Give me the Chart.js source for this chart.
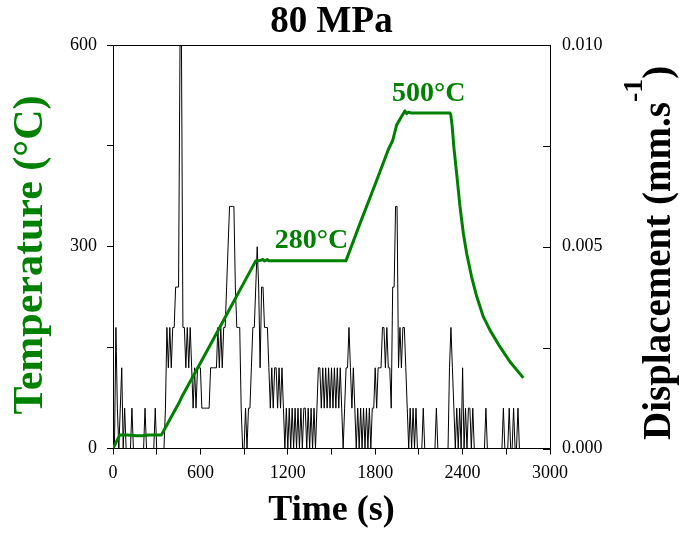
<!DOCTYPE html>
<html><head><meta charset="utf-8">
<script src="https://cdn.jsdelivr.net/npm/chart.js@4.4.1/dist/chart.umd.min.js"></script>
<style>html,body{margin:0;padding:0;background:#fff}canvas{display:block}</style>
</head><body>
<canvas id="c" width="679" height="533"></canvas>
<script>
// ---- data ----
const tempTime = [0,46,100,160,200,250,332,458,480,600,700,800,900,980,1000,1030,1040,1060,1070,1200,1400,1599,1700,1800,1889,1920,1947,1990,2004,2015,2030,2045,2100,2200,2313,2319,2329,2340,2359,2382,2405,2428,2462,2497,2542,2588,2657,2725,2817];
const tempValue = [0,20,20,19,19,20,20,70,80,127,167,207,247,279,279,281,279,281,279,279,279,279,337,393,444,458,481,497,502,498,500,499,499,499,499,496,478,448,409,360,320,290,255,226,196,176,151,129,105];

const dispTime = [
0,10,20,30,40,50,60,70,80,90,
100,110,120,130,140,150,160,170,180,190,
200,210,220,230,240,250,260,270,280,290,
300,310,320,330,340,350,360,370,380,390,
400,410,420,430,440,450,460,470,480,490,
500,510,520,530,540,550,560,570,580,590,
600,610,620,630,640,650,660,670,680,690,
700,710,720,730,740,750,760,770,780,790,
800,810,820,830,840,850,860,870,880,890,
900,910,920,930,940,950,960,970,980,990,
1000,1010,1020,1030,1040,1050,1060,1070,1080,1090,
1100,1110,1120,1130,1140,1150,1160,1170,1180,1190,
1200,1210,1220,1230,1240,1250,1260,1270,1280,1290,
1300,1310,1320,1330,1340,1350,1360,1370,1380,1390,
1400,1410,1420,1430,1440,1450,1460,1470,1480,1490,
1500,1510,1520,1530,1540,1550,1560,1570,1580,1590,
1600,1610,1620,1630,1640,1650,1660,1670,1680,1690,
1700,1710,1720,1730,1740,1750,1760,1770,1780,1790,
1800,1810,1820,1830,1840,1850,1860,1870,1880,1890,
1900,1910,1920,1930,1940,1950,1960,1970,1980,1990,
2000,2010,2020,2030,2040,2050,2060,2070,2080,2090,
2100,2110,2120,2130,2140,2150,2160,2170,2180,2190,
2200,2210,2220,2230,2240,2250,2260,2270,2280,2290,
2300,2310,2320,2330,2340,2350,2360,2370,2380,2390,
2400,2410,2420,2430,2440,2450,2460,2470,2480,2490,
2500,2510,2520,2530,2540,2550,2560,2570,2580,2590,
2600,2610,2620,2630,2640,2650,2660,2670,2680,2690,
2700,2710,2720,2730,2740,2750,2760,2770,2780,2790,
2800];
const dispRate = [
0,0,.003,.001,0,.001,.002,0,.001,0,
0,0,0,.001,0,0,0,0,0,0,
0,0,.001,0,0,0,0,0,0,.001,
0,0,0,0,0,0,.001,.003,.002,.003,
.002,.003,.003,.004,.004,.004,.010,.010,.003,.003,
.002,.003,.002,.003,.002,.001,.002,.001,.002,.002,
.002,.001,.001,.001,.001,.001,.001,.002,.002,.002,
.002,.002,.003,.002,.003,.002,.003,.003,.004,.005,
.006,.006,.006,.006,.004,.003,.003,.003,.001,0,
0,.001,0,.001,.001,.002,.003,.003,.004,.005,
.004,.002,.004,.004,.003,.003,.003,.002,.001,.002,
.001,.002,.002,.001,.002,.001,.002,.001,0,.001,
0,.001,0,.001,0,.001,0,.001,0,.001,
0,.001,.001,0,.001,0,.001,0,.001,0,
.001,.002,.002,.001,.002,.001,.002,.001,.002,.001,
.002,.001,.002,.001,.002,.001,.002,.001,0,.001,
.002,.002,.003,.002,.001,.002,.001,0,.001,0,
.001,0,.001,0,.001,0,.001,0,.001,.001,
.002,.001,.002,.002,.002,.003,.003,.002,.003,.002,
.002,.001,.004,.004,.006,.006,.002,.003,.002,.003,
.003,.002,.001,0,.001,0,.001,0,.001,0,
0,0,0,.001,0,0,0,0,0,0,
0,0,.001,0,0,0,0,0,0,0,
0,.002,.003,.002,.001,0,.001,0,.001,0,
.002,0,.001,0,.001,.001,0,.001,0,0,
0,0,0,0,0,0,.001,0,0,0,
0,0,0,0,0,0,0,0,.001,0,
0,0,.001,0,0,.001,0,0,.001,0,
0];

const xTickLabels = [0,600,1200,1800,2400,3000];
const tempTickLabels = [0,300,600];
const dispTickLabels = ['0.000','0.005','0.010'];
const annotations = [
  {text:'280°C', t:1111, T:298},
  {text:'500°C', t:1915, T:516}
];

// ---- styling ----
const GREEN = '#008000';
const SERIF = '"Liberation Serif", "Times New Roman", serif';
const tickFont = {family: SERIF, size: 18};

const extras = {
  id: 'extras',
  afterDraw(chart) {
    const {ctx, chartArea: a, scales} = chart;
    ctx.save();
    ctx.strokeStyle = '#000';
    ctx.lineWidth = 1;
    // top frame line
    ctx.beginPath();
    ctx.moveTo(a.left, Math.round(a.top) + 0.5);
    ctx.lineTo(a.right, Math.round(a.top) + 0.5);
    ctx.stroke();
    // inward ticks on right axis
    scales.y1.ticks.forEach(tk => {
      const py = Math.round(scales.y1.getPixelForValue(tk.value)) + 0.5;
      ctx.beginPath();
      ctx.moveTo(a.right - 7, py);
      ctx.lineTo(a.right, py);
      ctx.stroke();
    });
    // annotations
    ctx.fillStyle = GREEN;
    ctx.font = 'bold 28px ' + SERIF;
    ctx.textAlign = 'left';
    ctx.textBaseline = 'alphabetic';
    annotations.forEach(an => {
      ctx.fillText(an.text, scales.x.getPixelForValue(an.t), scales.y.getPixelForValue(an.T));
    });
    // left axis title
    ctx.save();
    ctx.translate(31, 255);
    ctx.rotate(-Math.PI / 2);
    ctx.font = 'bold 42px ' + SERIF;
    ctx.textAlign = 'center';
    ctx.textBaseline = 'middle';
    ctx.fillStyle = GREEN;
    ctx.fillText('Temperature (°C)', 0, 0);
    ctx.restore();
    // right axis title with superscript
    ctx.save();
    ctx.translate(670, 440);
    ctx.rotate(-Math.PI / 2);
    ctx.fillStyle = '#000';
    ctx.textAlign = 'left';
    ctx.textBaseline = 'alphabetic';
    ctx.font = 'bold 39px ' + SERIF;
    const main = 'Displacement (mm.s';
    ctx.fillText(main, 0, 0);
    let u = ctx.measureText(main).width;
    ctx.font = 'bold 28px ' + SERIF;
    ctx.fillText('-1', u, -28);
    u += ctx.measureText('-1').width;
    ctx.font = 'bold 39px ' + SERIF;
    ctx.fillText(')', u, 0);
    ctx.restore();
    ctx.restore();
  }
};

new Chart(document.getElementById('c'), {
  type: 'line',
  data: {
    datasets: [
      {
        label: 'Temperature',
        data: tempTime.map((t, i) => ({x: t, y: tempValue[i]})),
        yAxisID: 'y',
        borderColor: GREEN,
        borderWidth: 3,
        borderJoinStyle: 'round',
        pointRadius: 0,
        tension: 0,
        order: 0
      },
      {
        label: 'Displacement',
        data: dispTime.map((t, i) => ({x: t, y: dispRate[i]})),
        yAxisID: 'y1',
        borderColor: '#000',
        borderWidth: 1,
        pointRadius: 0,
        tension: 0,
        order: 1
      }
    ]
  },
  options: {
    responsive: false,
    animation: false,
    devicePixelRatio: 1,
    layout: {padding: {top: 0.6, left: 0, right: 0, bottom: 0}},
    plugins: {
      legend: {display: false},
      tooltip: {enabled: false},
      title: {
        display: true,
        text: '80 MPa',
        fullSize: false,
        color: '#000',
        font: {family: SERIF, size: 37, weight: 'bold', lineHeight: 1.2},
        padding: {top: 0, bottom: 0}
      }
    },
    scales: {
      x: {
        type: 'linear',
        min: 0, max: 3000,
        ticks: {
          stepSize: 300, autoSkip: false, maxRotation: 0, padding: 8,
          color: '#000', font: tickFont,
          callback: v => xTickLabels.includes(v) ? String(v) : ''
        },
        grid: {display: true, drawOnChartArea: false, drawTicks: true, tickLength: 6, color: '#000'},
        border: {display: true, color: '#000', width: 1},
        title: {
          display: true, text: 'Time (s)', color: '#000',
          font: {family: SERIF, size: 36, weight: 'bold', lineHeight: 1.2},
          padding: {top: 0, bottom: 1}
        },
        afterFit: s => { s.height = 84.5; }
      },
      y: {
        position: 'left',
        min: 0, max: 600,
        ticks: {
          stepSize: 150, autoSkip: false, padding: 10,
          color: '#000', font: tickFont,
          callback: v => tempTickLabels.includes(v) ? String(v) : ''
        },
        grid: {display: true, drawOnChartArea: false, drawTicks: true, tickLength: 6, color: '#000'},
        border: {display: true, color: '#000', width: 1},
        afterFit: s => { s.width = 113; }
      },
      y1: {
        position: 'right',
        min: 0, max: 0.01,
        ticks: {
          stepSize: 0.0025, autoSkip: false, padding: 12,
          color: '#000', font: tickFont,
          callback: v => {
            const k = v / 0.005;
            return Math.abs(k - Math.round(k)) < 1e-6 ? dispTickLabels[Math.round(k)] : '';
          }
        },
        grid: {display: false, drawOnChartArea: false, drawTicks: false},
        border: {display: true, color: '#000', width: 1},
        afterFit: s => { s.width = 129; }
      }
    }
  },
  plugins: [extras]
});
</script>
</body></html>
